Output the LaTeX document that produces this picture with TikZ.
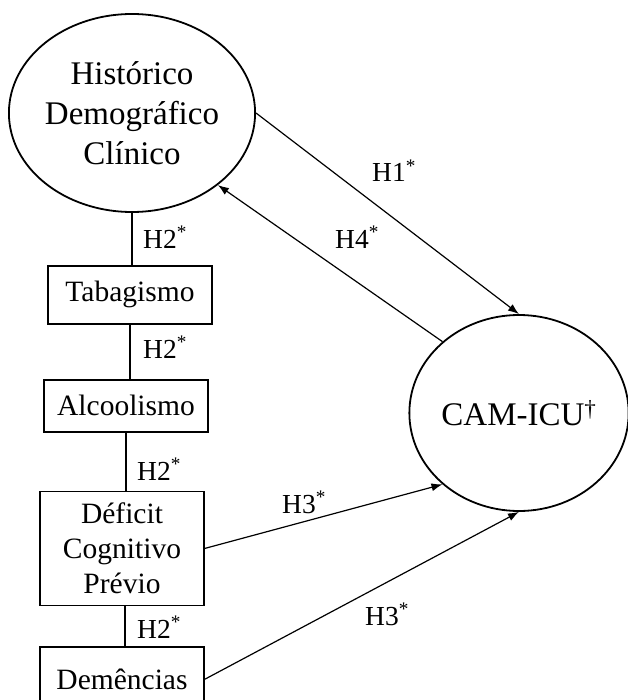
\documentclass[tikz,border=0pt]{standalone}
\usepackage{fontspec}
\setmainfont{Liberation Serif}
\usetikzlibrary{positioning,shapes.geometric,arrows.meta}

\begin{document}
\begin{tikzpicture}[x=1pt,y=-1pt,
  latentvar/.style={ellipse, draw, line width=1.8pt, inner sep=0pt, align=center,
    font=\fontsize{33}{40}\selectfont},
  obsbox/.style={rectangle, draw, line width=1.8pt, inner sep=0pt, align=center,
    minimum width=164pt, font=\fontsize{29.5}{35}\selectfont},
  hyp/.style={-{Latex[length=11pt,width=8pt]}, line width=1.2pt},
  link/.style={line width=2pt},
  hlabel/.style={anchor=base west, inner sep=0pt, font=\fontsize{27.5}{30}\selectfont}]

  \useasboundingbox (0,0) rectangle (627,700);

  % Define nodes
  \node[latentvar, minimum width=240pt, minimum height=198pt] (hist) at (132,113) {Histórico\\Demográfico\\Clínico};
  \node[latentvar, minimum width=216pt, minimum height=196pt] (cam) at (519,413) {CAM-ICU\textsuperscript{\dag}};
  \node[obsbox, minimum height=58pt, below=52pt of hist, xshift=-2pt] (tab) {Tabagismo};
  \node[obsbox, minimum height=52pt, below=54pt of tab, xshift=-4pt] (alc) {Alcoolismo};
  \node[obsbox, minimum height=114pt, below=58pt of alc, xshift=-4pt] (def) {Déficit\\Cognitivo\\Prévio};
  \node[obsbox, minimum height=64pt, below=40pt of def] (dem) {Demências};

  % Connect the nodes
  \draw[link] (hist.south) -- (hist.south |- tab.north);
  \draw[link] (tab.south) -- (tab.south |- alc.north);
  \draw[link] (alc.south) -- (alc.south |- def.north);
  \draw[link] ([xshift=3pt]def.south) -- ([xshift=3pt]def.south |- dem.north);
  \draw[hyp] (hist.east) -- (cam.north);
  \draw[hyp] (cam.137) -- (hist.-40);
  \draw[hyp] (def.east) -- (cam.-137);
  \draw[hyp] (dem.east) -- (cam.south);

  % Hypothesis labels
  \node[hlabel] (h2a) at (143,248) {H2\textsuperscript{*}};
  \node[hlabel] (h2b) at (143,358) {H2\textsuperscript{*}};
  \node[hlabel] (h2c) at (137,480) {H2\textsuperscript{*}};
  \node[hlabel] (h2d) at (137,638) {H2\textsuperscript{*}};
  \node[hlabel] (h1) at (372,182) {H1\textsuperscript{*}};
  \node[hlabel] (h4) at (335,248) {H4\textsuperscript{*}};
  \node[hlabel] (h3a) at (282,513) {H3\textsuperscript{*}};
  \node[hlabel] (h3b) at (365,625) {H3\textsuperscript{*}};

\end{tikzpicture}
\end{document}
